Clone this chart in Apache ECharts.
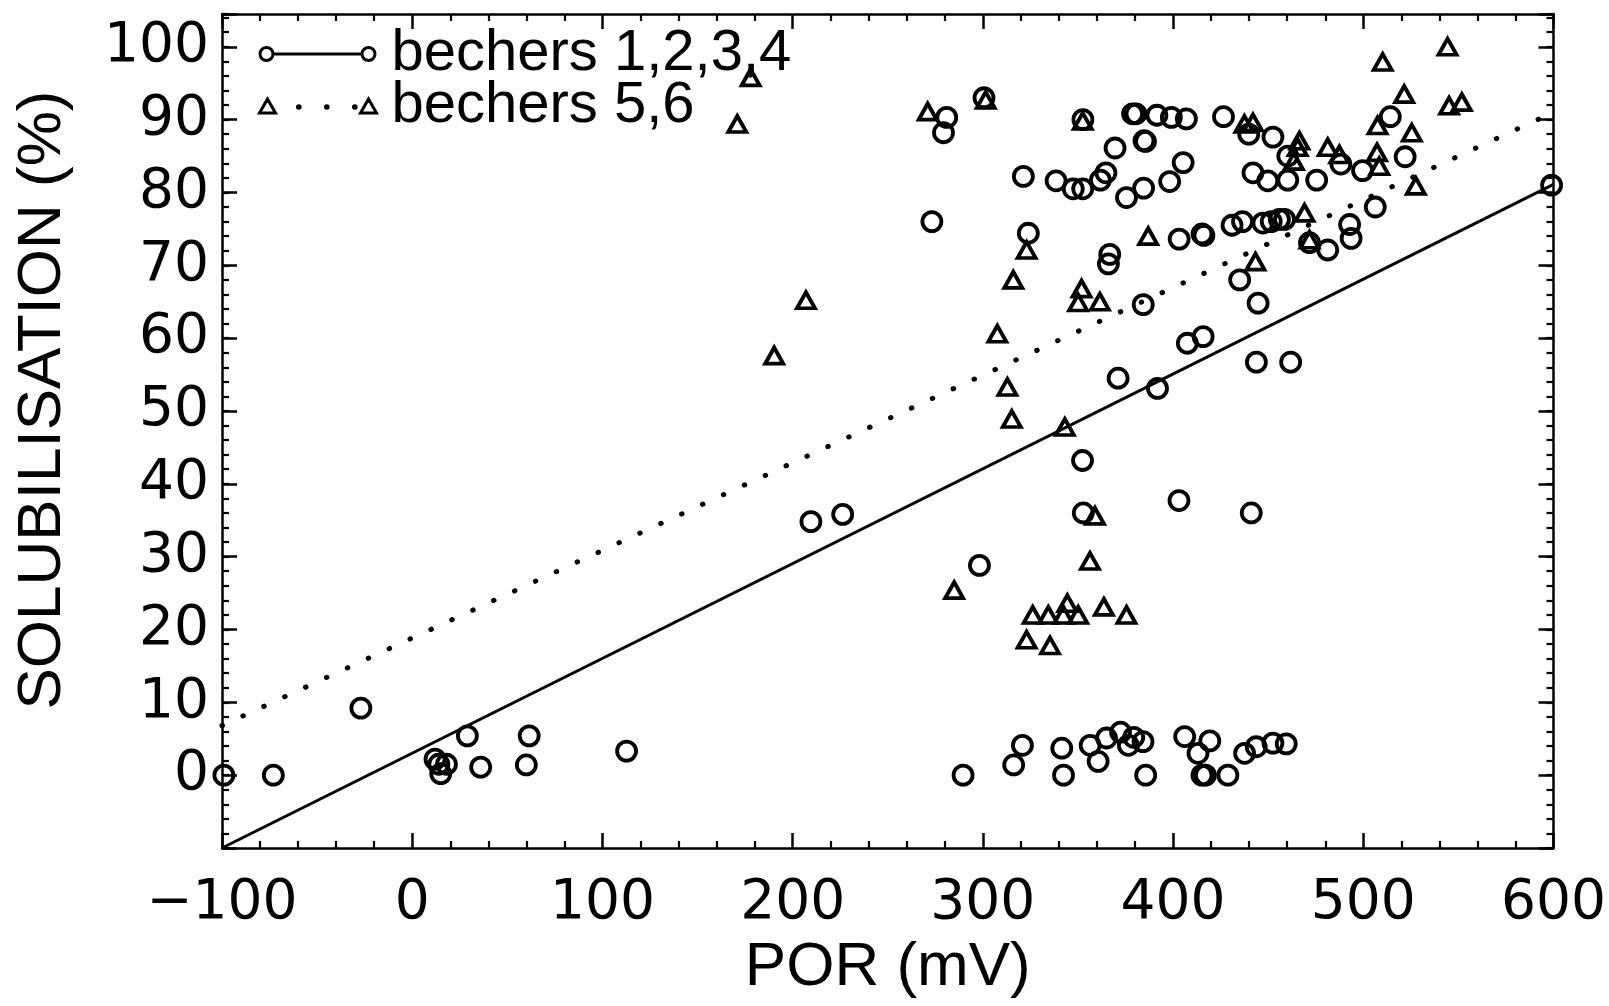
<!DOCTYPE html>
<html><head><meta charset="utf-8">
<script src="https://cdn.jsdelivr.net/npm/echarts@6/dist/echarts.min.js"></script>
<style>html,body{margin:0;padding:0;background:#fff}#c{width:1609px;height:1006px}</style>
</head><body><div id="c"></div>
<script>
// ---- data ----
const xTickValues = [-100, 0, 100, 200, 300, 400, 500, 600];
const xTickLabels = ['\u2212100', '0', '100', '200', '300', '400', '500', '600'];
const yTickValues = [0, 10, 20, 30, 40, 50, 60, 70, 80, 90, 100];
const yTickLabels = ['0', '10', '20', '30', '40', '50', '60', '70', '80', '90', '100'];

// bechers 1,2,3,4 (circles)
const circX = [-99, -73, -27, 12, 14, 15, 18, 29, 36, 60, 61.5, 112.7, 209.6, 226.3, 273.2, 281, 279.3, 300.6, 298.2, 289.6,
  321.3, 323.9, 320.8, 316.2, 338.5, 347.5, 352.5, 352.6, 352.4, 352.8, 341.5, 342.4, 356.4, 360.6, 361.8, 364.7, 366.7, 366, 369.5, 371.1,
  365, 372.4, 376.5, 379.3, 375.5, 378.7, 380.5, 384.5, 384.7, 385.5, 384.3, 384.2, 385.6, 391.5, 391.8, 399.1, 398.2, 407, 405.3, 403.2,
  403.1, 406.1, 407.5, 413.1, 415.2, 417, 415.8, 415.2, 416.2, 419.3, 428.8, 426.5, 431, 436.5, 435, 437.6, 439.8, 442, 441.1, 443.8,
  444.7, 443.7, 447.2, 449.8, 452.5, 452.5, 451.6, 455.9, 458.6, 459.5, 460.3, 460.3, 461.8, 471.7, 475.5, 481.3, 488.2, 492.8, 493.6, 499.6,
  506.3, 514.2, 522, 599];
const circY = [0, 0, 9.2, 2.2, 1.5, 0.2, 1.5, 5.4, 1.1, 1.4, 5.4, 3.3, 34.8, 35.8, 76, 90.3, 88.2, 93, 28.8, 0,
  82.2, 74.4, 4.1, 1.4, 81.6, 80.5, 80.5, 90, 43.2, 36, 3.7, 0, 4.1, 1.9, 81.7, 82.7, 71.5, 70.2, 86.1, 54.5,
  5.1, 5.9, 4.1, 5.2, 79.3, 90.8, 90.8, 80.6, 87.1, 87, 64.6, 4.6, 0, 90.6, 53.1, 90.3, 81.5, 90.1, 84.1, 73.6,
  37.7, 5.3, 59.3, 3, 0, 0, 60.2, 74.3, 74.1, 4.7, 0, 90.4, 75.5, 76, 68, 3, 88, 82.7, 36, 56.7,
  64.8, 3.9, 75.8, 81.6, 4.4, 87.6, 76, 76.3, 76.3, 4.3, 85, 81.7, 56.7, 73.1, 81.7, 72.1, 83.9, 75.6, 73.7, 83,
  78, 90.4, 84.9, 81];

// bechers 5,6 (triangles)
const triX = [170.9, 177.9, 190.3, 207, 271, 301.5, 284.9, 307.6, 312.9, 315.2, 316, 323, 323, 326.2, 334.4, 335.3, 343.1, 344.4, 342.3,
  350.1, 350.1, 351.9, 352.5, 356.3, 358.9, 361.5, 363.6, 375.5, 386.9, 437.5, 442, 443.3, 463.5, 465.5, 466.4, 469.1, 471.7, 481.3, 487.4,
  507.5, 507.2, 508.4, 510.2, 521.5, 525.5, 527.6, 544.3, 545.1, 551.8];
const triY = [89.4, 95.8, 57.6, 65.2, 91.1, 92.7, 25.4, 60.6, 53.3, 48.9, 68, 72.1, 18.6, 22, 22, 17.8, 47.8, 23.6, 22,
  22, 64.9, 66.8, 89.8, 29.4, 35.6, 65, 23.1, 22, 74, 89.4, 89.6, 70.5, 84.3, 86.2, 87.1, 77.2, 73.5, 86.2, 85.2,
  89.2, 85.5, 83.6, 97.9, 93.5, 88.2, 80.9, 100, 91.9, 92.4];

// regression lines
const fitX = [-100, 600];
const fit1Y = [-10, 81.1];
const fit2Y = [6.8, 91];

// ---- build ----
const zip = (a, b) => a.map((v, i) => [v, b[i]]);
const black = '#000';
const markerStyle = { color: 'rgba(0,0,0,0)', borderColor: black, borderWidth: 3.8, opacity: 1 };

const iconCirc = 'path://M0,0M129,16M2.5,8a6.5,6.5 0 1,0 13,0a6.5,6.5 0 1,0 -13,0M15.5,8L104.5,8M104.5,8a6.5,6.5 0 1,0 13,0a6.5,6.5 0 1,0 -13,0';
const iconTri = 'path://M0,0M129,16M2,15L10,1L18,15ZM40,9a1.3,1.3 0 1,0 2.6,0a1.3,1.3 0 1,0 -2.6,0M68,9a1.3,1.3 0 1,0 2.6,0a1.3,1.3 0 1,0 -2.6,0M96,9a1.3,1.3 0 1,0 2.6,0a1.3,1.3 0 1,0 -2.6,0M103,15L111,1L119,15Z';

function xAxisDef(pos, labels) {
  return {
    type: 'value', position: pos, min: -100, max: 600, interval: 100,
    axisLine: { show: true, onZero: false, lineStyle: { color: black, width: 2.5 } },
    axisTick: { show: true, inside: true, length: 15, lineStyle: { color: black, width: 2.5 } },
    minorTick: { show: true, splitNumber: 5, length: 7, lineStyle: { color: black, width: 2.2 } },
    splitLine: { show: false },
    axisLabel: labels ? {
      show: true, margin: 28, color: black, fontFamily: 'DejaVu Sans', fontSize: 55,
      formatter: v => { const i = xTickValues.indexOf(v); return i >= 0 ? xTickLabels[i] : ''; }
    } : { show: false },
    name: labels ? 'POR (mV)' : '', nameLocation: 'middle', nameGap: 89,
    nameTextStyle: { fontFamily: 'Liberation Sans', fontSize: 62, color: black }
  };
}
function yAxisDef(pos, interval, len, labels, line) {
  return {
    type: 'value', position: pos, min: -10, max: 104.5, interval: interval,
    axisLine: { show: line, onZero: false, lineStyle: { color: black, width: 2.5 } },
    axisTick: { show: true, inside: true, length: len, lineStyle: { color: black, width: len > 10 ? 2.5 : 2.2 } },
    splitLine: { show: false },
    axisLabel: labels ? {
      show: true, margin: 13, color: black, fontFamily: 'DejaVu Sans', fontSize: 55,
      formatter: v => { const i = yTickValues.indexOf(v); return i >= 0 ? yTickLabels[i] : ''; }
    } : { show: false },
    name: labels ? 'SOLUBILISATION (%)' : '', nameLocation: 'middle', nameGap: 148,
    nameTextStyle: { fontFamily: 'Liberation Sans', fontSize: 62, color: black, padding: [0, 0, 0, 62] }
  };
}

const chart = echarts.init(document.getElementById('c'), null, { renderer: 'canvas' });
chart.setOption({
  backgroundColor: '#fff',
  animation: false,
  grid: { left: 222, right: 53, top: 14, bottom: 158, containLabel: false },
  xAxis: [xAxisDef('bottom', true), xAxisDef('top', false)],
  yAxis: [yAxisDef('left', 10, 15, true, true), yAxisDef('right', 10, 15, false, true),
          yAxisDef('left', 2, 7, false, false), yAxisDef('right', 2, 7, false, false)],
  legend: {
    orient: 'vertical', left: 251, top: 20, itemGap: -6, itemWidth: 129, itemHeight: 16,
    selectedMode: false,
    textStyle: { fontFamily: 'Liberation Sans', fontSize: 58, color: black, lineHeight: 50 },
    data: [
      { name: 'bechers 1,2,3,4', icon: iconCirc, itemStyle: { color: 'rgba(0,0,0,0)', borderColor: black, borderWidth: 3, opacity: 1 } },
      { name: 'bechers 5,6', icon: iconTri, itemStyle: { color: 'rgba(0,0,0,0)', borderColor: black, borderWidth: 3, opacity: 1 } }
    ]
  },
  series: [
    { name: 'fit 1', type: 'line', data: zip(fitX, fit1Y), showSymbol: false, silent: true,
      lineStyle: { color: black, width: 3 }, z: 1 },
    { name: 'fit 2', type: 'line', data: zip(fitX, fit2Y), showSymbol: false, silent: true,
      lineStyle: { color: black, width: 5, type: [0.5, 22.5], cap: 'round' }, z: 1 },
    { name: 'bechers 1,2,3,4', type: 'scatter', data: zip(circX, circY), symbol: 'circle', symbolSize: 19,
      itemStyle: markerStyle, emphasis: { disabled: true }, z: 2 },
    { name: 'bechers 5,6', type: 'scatter', data: zip(triX, triY), symbol: 'triangle', symbolSize: [18, 16],
      itemStyle: markerStyle, emphasis: { disabled: true }, z: 2 }
  ]
});
</script>
</body></html>
